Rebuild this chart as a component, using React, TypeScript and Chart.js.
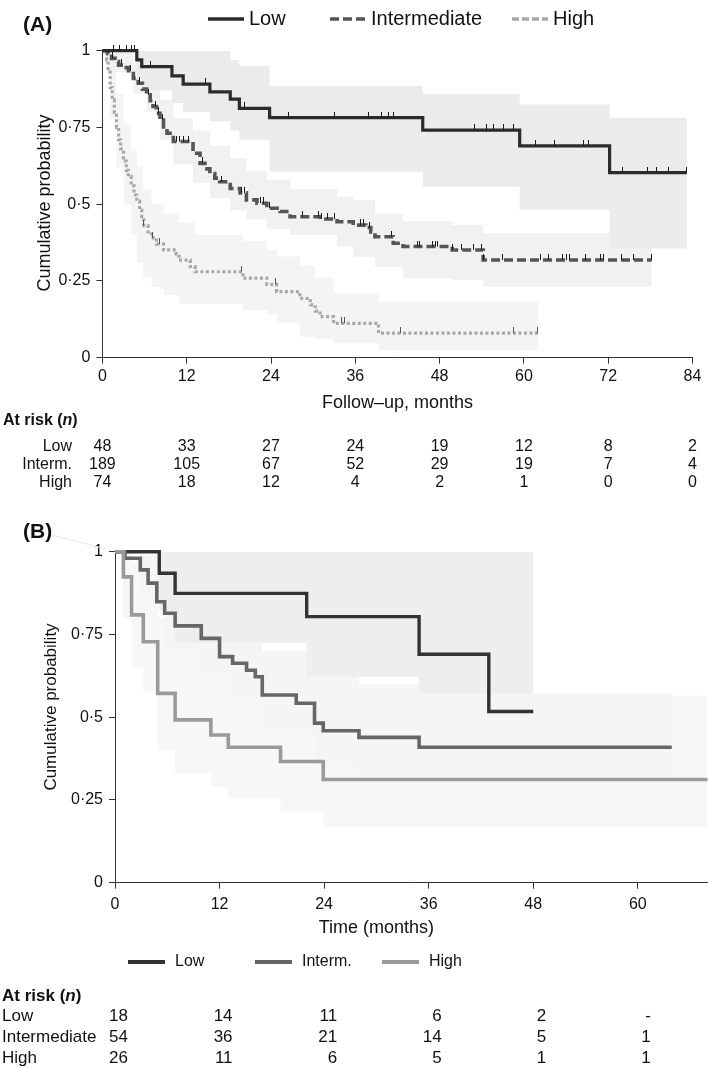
import React, { useEffect, useRef } from 'react';
import { Chart, registerables } from 'chart.js';

Chart.register(...registerables);

const FONT = "'Liberation Sans', Arial, Helvetica, sans-serif";

// ---------------- Panel A data ----------------
const A_GROUPS = ['Low', 'Intermediate', 'High'];
const A_RISK_LABELS = ['Low', 'Interm.', 'High'];
const A_TICKS_X = [0, 12, 24, 36, 48, 60, 72, 84];
const TICKS_Y = [0, 0.25, 0.5, 0.75, 1];
const TICK_Y_LABELS = ['0', '0·25', '0·5', '0·75', '1'];

const A_LOW_T = [0, 4.9, 5.6, 9.9, 11.5, 15.3, 18.2, 19.5, 23.8, 45.6, 59.4, 72.2];
const A_LOW_S = [1, 0.97, 0.948, 0.918, 0.891, 0.866, 0.842, 0.812, 0.782, 0.741, 0.69, 0.603];
const A_LOW_END = 83.2;
const A_LOW_UP = [1, 1, 1, 1, 1, 1, 0.97, 0.95, 0.885, 0.858, 0.825, 0.782];
const A_LOW_LO = [1, 0.91, 0.87, 0.83, 0.8, 0.77, 0.74, 0.71, 0.606, 0.557, 0.483, 0.356];
const A_LOW_CENS = [1.6, 2.5, 3.5, 4.1, 4.6, 6.9, 14.7, 20.2, 26.5, 33.1, 37.9, 39.8, 40.7, 41.4, 52.9, 54.7, 55.7, 57.1, 58.5, 61.6, 64.4, 68.5, 69.2, 74.1, 77.6, 78.9, 80.6, 83.2];

const A_INT_T = [0, 0.8, 1.3, 1.8, 2.3, 3.0, 3.7, 4.4, 5.1, 5.7, 6.3, 6.8, 7.2, 7.7, 8.2, 8.7, 9.2, 10.1, 12.9, 13.9, 14.6, 15.3, 16.0, 16.7, 18.2, 19.6, 20.5, 22.0, 23.4, 25.3, 26.7, 31.0, 33.4, 35.7, 37.5, 38.2, 38.8, 41.4, 42.8, 49.8, 54.2];
const A_INT_S = [1, 0.99, 0.975, 0.965, 0.953, 0.945, 0.935, 0.91, 0.894, 0.875, 0.856, 0.837, 0.818, 0.796, 0.774, 0.752, 0.731, 0.704, 0.666, 0.633, 0.615, 0.6, 0.585, 0.573, 0.551, 0.537, 0.514, 0.503, 0.487, 0.476, 0.459, 0.452, 0.443, 0.432, 0.424, 0.41, 0.394, 0.373, 0.362, 0.351, 0.318];
const A_INT_END = 78.2;
const A_INT_BAND_T = [0, 1.3, 4.4, 6.3, 8.2, 10.1, 12.9, 15.3, 18.2, 20.5, 23.4, 26.7, 33.4, 35.7, 38.8, 42.8, 49.8, 54.2];
const A_INT_UP = [1, 0.995, 0.96, 0.91, 0.84, 0.78, 0.74, 0.69, 0.65, 0.61, 0.58, 0.55, 0.525, 0.513, 0.47, 0.445, 0.432, 0.405];
const A_INT_LO = [1, 0.93, 0.86, 0.8, 0.71, 0.63, 0.57, 0.52, 0.48, 0.45, 0.42, 0.4, 0.362, 0.329, 0.296, 0.259, 0.253, 0.231];
const A_INT_CENS = [1.5, 2.7, 4.0, 5.3, 6.5, 7.5, 8.0, 8.5, 10.5, 11.0, 11.5, 12.2, 14.2, 17.0, 19.8, 20.2, 22.5, 23.0, 23.8, 28.5, 30.7, 31.2, 32.0, 33.0, 36.8, 37.2, 38.0, 41.2, 44.8, 45.2, 47.0, 47.4, 47.7, 49.9, 51.1, 52.8, 54.0, 54.3, 57.0, 62.3, 63.5, 65.5, 66.0, 66.5, 68.7, 70.9, 71.3, 73.9, 75.6, 78.2];

const A_HIGH_T = [0, 0.6, 0.8, 1.1, 1.4, 1.7, 2.0, 2.3, 2.6, 3.0, 3.4, 3.7, 4.1, 4.5, 4.9, 5.3, 5.6, 5.9, 6.5, 7.0, 7.7, 8.7, 10.5, 10.9, 12.5, 13.2, 20.0, 23.4, 24.8, 28.1, 29.6, 30.3, 31.0, 32.9, 39.3];
const A_HIGH_S = [1, 0.97, 0.93, 0.88, 0.84, 0.8, 0.75, 0.71, 0.68, 0.64, 0.61, 0.59, 0.56, 0.53, 0.51, 0.48, 0.46, 0.43, 0.41, 0.39, 0.37, 0.351, 0.338, 0.318, 0.297, 0.28, 0.259, 0.239, 0.215, 0.193, 0.172, 0.152, 0.134, 0.112, 0.08];
const A_HIGH_END = 62;
const A_HIGH_BAND_T = [0, 0.6, 1.1, 2.0, 3.0, 4.1, 4.9, 5.8, 7.0, 8.7, 10.9, 13.2, 20.0, 23.4, 24.8, 28.1, 30.3, 32.9, 39.3];
const A_HIGH_UP = [1, 1, 0.97, 0.86, 0.76, 0.68, 0.62, 0.55, 0.5, 0.47, 0.44, 0.4, 0.38, 0.35, 0.33, 0.3, 0.26, 0.21, 0.182];
const A_HIGH_LO = [1, 0.93, 0.78, 0.62, 0.5, 0.4, 0.31, 0.264, 0.23, 0.204, 0.176, 0.176, 0.155, 0.14, 0.112, 0.068, 0.06, 0.047, 0.025];
const A_HIGH_CENS = [5.9, 7.1, 8.1, 19.8, 24.7, 34.0, 34.5, 42.4, 58.5, 62];

const A_RISK_LOW = ['48', '33', '27', '24', '19', '12', '8', '2'];
const A_RISK_INT = ['189', '105', '67', '52', '29', '19', '7', '4'];
const A_RISK_HIGH = ['74', '18', '12', '4', '2', '1', '0', '0'];

// ---------------- Panel B data ----------------
const B_GROUPS = ['Low', 'Interm.', 'High'];
const B_RISK_LABELS = ['Low', 'Intermediate', 'High'];
const B_TICKS_X = [0, 12, 24, 36, 48, 60];

const B_LOW_T = [0, 5.08, 6.9, 22.0, 34.9, 42.9];
const B_LOW_S = [1, 0.935, 0.874, 0.804, 0.69, 0.517];
const B_LOW_END = 48;
const B_LOW_UP = [1, 1, 1, 1, 1, 1];
const B_LOW_LO = [1, 0.82, 0.725, 0.622, 0.572, 0.572];

const B_INT_T = [0, 1.15, 2.9, 3.8, 4.8, 5.7, 6.9, 9.9, 12.0, 13.5, 15.1, 16.1, 16.9, 20.8, 22.9, 23.9, 28.0, 34.9];
const B_INT_S = [1, 0.98, 0.945, 0.905, 0.849, 0.814, 0.776, 0.738, 0.683, 0.663, 0.642, 0.622, 0.567, 0.542, 0.482, 0.459, 0.439, 0.409];
const B_INT_END = 63.9;
const B_INT_BAND_T = [0, 2.9, 5.7, 9.9, 13.5, 16.9, 22.9, 28.0, 34.9];
const B_INT_UP = [1, 0.99, 0.93, 0.86, 0.8, 0.7, 0.63, 0.6, 0.572];
const B_INT_LO = [1, 0.88, 0.7, 0.62, 0.55, 0.45, 0.35, 0.32, 0.29];

const B_HIGH_T = [0, 0.96, 1.9, 3.25, 4.9, 6.9, 11.0, 13.0, 19.0, 23.9];
const B_HIGH_S = [1, 0.924, 0.809, 0.728, 0.572, 0.492, 0.446, 0.409, 0.366, 0.312];
const B_HIGH_END = 68;
const B_HIGH_UP = [1, 1, 0.97, 0.9, 0.8, 0.72, 0.68, 0.64, 0.6, 0.565];
const B_HIGH_LO = [1, 0.8, 0.65, 0.577, 0.4, 0.33, 0.29, 0.255, 0.215, 0.169];

const B_RISK_LOW = ['18', '14', '11', '6', '2', '-'];
const B_RISK_INT = ['54', '36', '21', '14', '5', '1'];
const B_RISK_HIGH = ['26', '11', '6', '5', '1', '1'];

// ---------------- helpers ----------------
function stepPoints(times: number[], vals: number[], end: number) {
  const pts = times.map((t, i) => ({ x: t, y: vals[i] }));
  pts.push({ x: end, y: vals[vals.length - 1] });
  return pts;
}
function valueAt(times: number[], vals: number[], t: number) {
  let v = vals[0];
  for (let i = 0; i < times.length; i++) if (times[i] <= t) v = vals[i];
  return v;
}
function censorMark(color: string, h: number) {
  const c = document.createElement('canvas');
  c.width = 1;
  c.height = h * 2;
  const g = c.getContext('2d')!;
  g.fillStyle = color;
  g.fillRect(0, 0, 1, h);
  return c;
}
function lineDs(pts: any[], color: string, width: number, dash: number[], order: number) {
  return {
    type: 'line', data: pts, stepped: true, borderColor: color, borderWidth: width,
    borderDash: dash, pointRadius: 0, fill: false, clip: false, order,
    borderCapStyle: 'butt', borderJoinStyle: 'miter',
  };
}
function bandDs(upper: any[], lower: any[], upperIndex: number, color: string, order: number) {
  return [
    { type: 'line', data: upper, stepped: true, borderColor: 'rgba(0,0,0,0)', borderWidth: 0, pointRadius: 0, fill: false, order },
    { type: 'line', data: lower, stepped: true, borderColor: 'rgba(0,0,0,0)', borderWidth: 0, pointRadius: 0, fill: upperIndex, backgroundColor: color, order },
  ];
}
function censorDs(times: number[], stepT: number[], stepS: number[], img: HTMLCanvasElement) {
  return {
    type: 'line', data: times.map((t) => ({ x: t, y: valueAt(stepT, stepS, t) })), showLine: false,
    pointStyle: img, pointRadius: 3, pointHoverRadius: 3, clip: false, order: 0,
  };
}
function drawHeader(ctx: CanvasRenderingContext2D, x: number, y: number, size: number) {
  ctx.textAlign = 'left';
  ctx.font = `bold ${size}px ${FONT}`;
  ctx.fillText('At risk (', x, y);
  x += ctx.measureText('At risk (').width;
  ctx.font = `italic bold ${size}px ${FONT}`;
  ctx.fillText('n', x, y);
  x += ctx.measureText('n').width;
  ctx.font = `bold ${size}px ${FONT}`;
  ctx.fillText(')', x, y);
}

const Y_AXIS_W = 70;

function axisScales(xMax: number, xTicks: number[], xPad: number) {
  const tickFont = { family: FONT, size: 16 };
  return {
    x: {
      type: 'linear', min: 0, max: xMax,
      afterFit: (s: any) => { s.height = 40; },
      afterBuildTicks: (s: any) => { s.ticks = xTicks.map((v) => ({ value: v })); },
      ticks: { font: tickFont, color: '#111', padding: xPad, maxRotation: 0, autoSkip: false, includeBounds: false },
      grid: { display: true, drawOnChartArea: false, drawTicks: true, tickLength: 6, color: '#333', tickWidth: 1 },
      border: { display: true, color: '#333', width: 1 },
    },
    y: {
      type: 'linear', min: 0, max: 1,
      afterFit: (s: any) => { s.width = Y_AXIS_W; },
      afterBuildTicks: (s: any) => { s.ticks = TICKS_Y.map((v) => ({ value: v })); },
      ticks: {
        font: tickFont, color: '#111', padding: 6,
        callback: (v: any) => TICK_Y_LABELS[TICKS_Y.indexOf(Number(v))],
      },
      grid: { display: true, drawOnChartArea: false, drawTicks: true, tickLength: 6, color: '#333', tickWidth: 1 },
      border: { display: true, color: '#333', width: 1 },
    },
  };
}

// ---------------- Panel A ----------------
const A_STYLES = [
  { color: '#2b2b2b', width: 3.2, dash: [] as number[] },
  { color: '#555555', width: 3.6, dash: [9, 4] },
  { color: '#a8a8a8', width: 3.2, dash: [3, 2.5] },
];

function configA() {
  const mark = censorMark('#1a1a1a', 6);
  const markH = censorMark('#555555', 6);
  const datasets: any[] = [
    lineDs(stepPoints(A_LOW_T, A_LOW_S, A_LOW_END), A_STYLES[0].color, A_STYLES[0].width, A_STYLES[0].dash, 1),
    lineDs(stepPoints(A_INT_T, A_INT_S, A_INT_END), A_STYLES[1].color, A_STYLES[1].width, A_STYLES[1].dash, 2),
    lineDs(stepPoints(A_HIGH_T, A_HIGH_S, A_HIGH_END), A_STYLES[2].color, A_STYLES[2].width, A_STYLES[2].dash, 3),
    censorDs(A_LOW_CENS, A_LOW_T, A_LOW_S, mark),
    censorDs(A_INT_CENS, A_INT_T, A_INT_S, mark),
    censorDs(A_HIGH_CENS, A_HIGH_T, A_HIGH_S, markH),
    ...bandDs(stepPoints(A_LOW_T, A_LOW_UP, A_LOW_END), stepPoints(A_LOW_T, A_LOW_LO, A_LOW_END), 6, '#ebebeb', 10),
    ...bandDs(stepPoints(A_INT_BAND_T, A_INT_UP, A_INT_END), stepPoints(A_INT_BAND_T, A_INT_LO, A_INT_END), 8, '#f1f1f1', 11),
    ...bandDs(stepPoints(A_HIGH_BAND_T, A_HIGH_UP, A_HIGH_END), stepPoints(A_HIGH_BAND_T, A_HIGH_LO, A_HIGH_END), 10, '#f4f4f4', 12),
  ];
  const plugin = {
    id: 'panelA',
    afterDraw(chart: any) {
      const ctx: CanvasRenderingContext2D = chart.ctx;
      const xs = chart.scales.x;
      ctx.save();
      ctx.fillStyle = '#111';
      ctx.textBaseline = 'middle';
      ctx.textAlign = 'left';
      ctx.font = `bold 21px ${FONT}`;
      ctx.fillText('(A)', 23, 25);
      // legend
      const starts = [208, 330, 512];
      ctx.font = `20px ${FONT}`;
      A_GROUPS.forEach((g, i) => {
        const st = A_STYLES[i];
        ctx.save();
        ctx.strokeStyle = st.color;
        ctx.lineWidth = 3.5;
        ctx.setLineDash(i === 2 ? [7, 3] : st.dash);
        ctx.beginPath();
        ctx.moveTo(starts[i], 19);
        ctx.lineTo(starts[i] + 36, 19);
        ctx.stroke();
        ctx.restore();
        ctx.fillText(g, starts[i] + 41, 19);
      });
      // axis titles
      ctx.font = `18px ${FONT}`;
      ctx.textAlign = 'center';
      ctx.fillText('Follow–up, months', (xs.left + xs.right) / 2, 403);
      ctx.save();
      ctx.translate(45, 203);
      ctx.rotate(-Math.PI / 2);
      ctx.fillText('Cumulative probability', 0, 0);
      ctx.restore();
      // at risk
      drawHeader(ctx, 3, 421, 16);
      ctx.font = `16px ${FONT}`;
      const rows = [A_RISK_LOW, A_RISK_INT, A_RISK_HIGH];
      const ys = [447, 465, 483];
      rows.forEach((r, ri) => {
        ctx.textAlign = 'right';
        ctx.fillText(A_RISK_LABELS[ri], 72, ys[ri]);
        ctx.textAlign = 'center';
        r.forEach((v, ci) => ctx.fillText(v, xs.getPixelForValue(A_TICKS_X[ci]), ys[ri]));
      });
      ctx.restore();
    },
  };
  return {
    type: 'line',
    data: { datasets },
    options: {
      responsive: false, animation: false, devicePixelRatio: 1,
      layout: { padding: { left: 102.4 - Y_AXIS_W, right: 16.5, top: 50.7, bottom: 102.3 } },
      plugins: { legend: { display: false }, tooltip: { enabled: false } },
      events: [],
      scales: axisScales(84, A_TICKS_X, 3),
    },
    plugins: [plugin],
  };
}

// ---------------- Panel B ----------------
const B_STYLES = [
  { color: '#333333', width: 3.4 },
  { color: '#666666', width: 3.6 },
  { color: '#9a9a9a', width: 3.6 },
];

function configB() {
  const datasets: any[] = [
    lineDs(stepPoints(B_LOW_T, B_LOW_S, B_LOW_END), B_STYLES[0].color, B_STYLES[0].width, [], 3),
    lineDs(stepPoints(B_INT_T, B_INT_S, B_INT_END), B_STYLES[1].color, B_STYLES[1].width, [], 2),
    lineDs(stepPoints(B_HIGH_T, B_HIGH_S, B_HIGH_END), B_STYLES[2].color, B_STYLES[2].width, [], 1),
    ...bandDs(stepPoints(B_LOW_T, B_LOW_UP, B_LOW_END), stepPoints(B_LOW_T, B_LOW_LO, B_LOW_END), 3, '#eeeeee', 10),
    ...bandDs(stepPoints(B_INT_BAND_T, B_INT_UP, B_INT_END), stepPoints(B_INT_BAND_T, B_INT_LO, B_INT_END), 5, '#f5f5f5', 11),
    ...bandDs(stepPoints(B_HIGH_T, B_HIGH_UP, B_HIGH_END), stepPoints(B_HIGH_T, B_HIGH_LO, B_HIGH_END), 7, '#f7f7f7', 12),
  ];
  const plugin = {
    id: 'panelB',
    afterDraw(chart: any) {
      const ctx: CanvasRenderingContext2D = chart.ctx;
      const xs = chart.scales.x;
      ctx.save();
      // faint scan line from label to axis
      ctx.strokeStyle = '#e6e6e6';
      ctx.lineWidth = 1;
      ctx.beginPath();
      ctx.moveTo(52, 35);
      ctx.lineTo(106, 49);
      ctx.stroke();
      ctx.fillStyle = '#111';
      ctx.textBaseline = 'middle';
      ctx.textAlign = 'left';
      ctx.font = `bold 21px ${FONT}`;
      ctx.fillText('(B)', 23, 32);
      // axis titles
      ctx.font = `18px ${FONT}`;
      ctx.textAlign = 'center';
      const mid = (xs.getPixelForValue(B_TICKS_X[0]) + xs.getPixelForValue(B_TICKS_X[B_TICKS_X.length - 1])) / 2;
      ctx.fillText('Time (months)', mid, 428);
      ctx.font = `17px ${FONT}`;
      ctx.save();
      ctx.translate(51, 207);
      ctx.rotate(-Math.PI / 2);
      ctx.fillText('Cumulative probability', 0, 0);
      ctx.restore();
      // legend
      const starts = [128, 255, 382];
      ctx.font = `16px ${FONT}`;
      ctx.textAlign = 'left';
      B_GROUPS.forEach((g, i) => {
        ctx.strokeStyle = B_STYLES[i].color;
        ctx.lineWidth = 4;
        ctx.beginPath();
        ctx.moveTo(starts[i], 462);
        ctx.lineTo(starts[i] + 37, 462);
        ctx.stroke();
        ctx.fillText(g, starts[i] + 47, 462);
      });
      // at risk
      drawHeader(ctx, 2, 496.7, 17);
      ctx.font = `17px ${FONT}`;
      const rows = [B_RISK_LOW, B_RISK_INT, B_RISK_HIGH];
      const ys = [516.7, 537.7, 558.3];
      rows.forEach((r, ri) => {
        ctx.textAlign = 'left';
        ctx.fillText(B_RISK_LABELS[ri], 2, ys[ri]);
        ctx.textAlign = 'right';
        r.forEach((v, ci) => ctx.fillText(v, xs.getPixelForValue(B_TICKS_X[ci]) + 13, ys[ri]));
      });
      ctx.restore();
    },
  };
  return {
    type: 'line',
    data: { datasets },
    options: {
      responsive: false, animation: false, devicePixelRatio: 1,
      layout: { padding: { left: 115 - Y_AXIS_W, right: 1.5, top: 51.7, bottom: 145.3 } },
      plugins: { legend: { display: false }, tooltip: { enabled: false } },
      events: [],
      scales: axisScales(68, B_TICKS_X, 6),
    },
    plugins: [plugin],
  };
}

function Panel({ top, height, make }: { top: number; height: number; make: () => any }) {
  const ref = useRef<HTMLCanvasElement>(null);
  useEffect(() => {
    const chart = new Chart(ref.current as HTMLCanvasElement, make());
    return () => chart.destroy();
  }, []);
  return (
    <canvas
      ref={ref}
      width={709}
      height={height}
      style={{ position: 'absolute', left: 0, top, width: 709, height, display: 'block' }}
    />
  );
}

export default function App() {
  return (
    <div style={{ position: 'absolute', left: 0, top: 0, width: 709, height: 1068, background: '#fff' }}>
      <Panel top={0} height={500} make={configA} />
      <Panel top={500} height={568} make={configB} />
    </div>
  );
}
